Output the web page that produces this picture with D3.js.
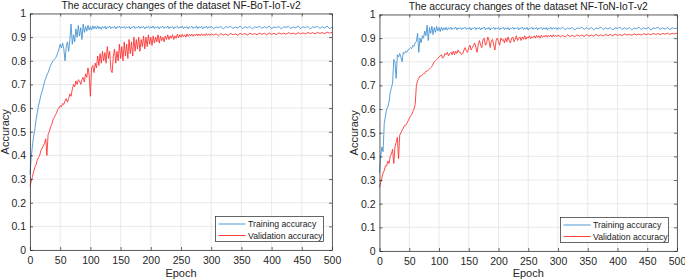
<!DOCTYPE html>
<html>
<head>
<meta charset="utf-8">
<script src="https://cdn.jsdelivr.net/npm/d3@7"></script>
<style>
  body { margin: 0; background: #fff; }
  svg { display: block; font-family: "Liberation Sans", Arial, sans-serif; }
</style>
</head>
<body>
<div id="chart"></div>
<script>
// epochs: every 2 epochs up to 298, then every 4 epochs to 500
var epochs = d3.range(0, 300, 2).concat(d3.range(300, 501, 4));

var xTicks = [0, 50, 100, 150, 200, 250, 300, 350, 400, 450, 500];
var yTicks = [0, 0.1, 0.2, 0.3, 0.4, 0.5, 0.6, 0.7, 0.8, 0.9, 1];
var seriesNames = ["Training accuracy", "Validation accuracy"];
var titles = ["The accuracy changes of the dataset NF-BoT-IoT-v2",
              "The accuracy changes of the dataset NF-ToN-IoT-v2"];

// NF-BoT-IoT-v2
var botTrain = [
  0.32,0.39,0.44,0.48,0.51,0.55,0.58,0.61,0.63,0.655,
  0.67,0.69,0.71,0.725,0.74,0.75,0.765,0.78,0.79,0.80,
  0.805,0.81,0.82,0.835,0.85,0.87,0.855,0.875,0.85,0.80,
  0.86,0.88,0.84,0.89,0.955,0.87,0.91,0.88,0.935,0.90,
  0.95,0.905,0.94,0.89,0.955,0.92,0.945,0.925,0.95,0.93,
  0.945,0.93,0.948,0.935,0.946,0.934,0.948,0.936,0.944,0.933,
  0.945,0.938,0.946,0.934,0.944,0.940,0.947,0.936,0.943,0.939,
  0.946,0.935,0.944,0.941,0.947,0.937,0.943,0.940,0.946,0.936,
  0.944,0.939,0.945,0.934,0.943,0.941,0.947,0.936,0.942,0.939,
  0.946,0.937,0.944,0.940,0.945,0.935,0.943,0.941,0.946,0.937,
  0.944,0.939,0.947,0.936,0.943,0.940,0.945,0.935,0.944,0.941,
  0.946,0.937,0.943,0.939,0.947,0.936,0.944,0.940,0.945,0.935,
  0.943,0.941,0.946,0.937,0.944,0.939,0.947,0.936,0.943,0.940,
  0.945,0.935,0.944,0.941,0.946,0.937,0.943,0.939,0.947,0.936,
  0.944,0.940,0.945,0.935,0.943,0.941,0.946,0.937,0.944,0.939,
  // 300..500
  0.947,0.936,0.943,0.940,0.945,0.935,0.944,0.941,0.946,0.937,
  0.943,0.939,0.947,0.936,0.944,0.940,0.945,0.935,0.943,0.941,
  0.946,0.937,0.944,0.939,0.947,0.936,0.943,0.940,0.945,0.935,
  0.944,0.941,0.946,0.937,0.943,0.939,0.947,0.936,0.944,0.940,
  0.945,0.935,0.943,0.941,0.946,0.937,0.944,0.939,0.947,0.936,
  0.942];
var botVal = [
  0.27,0.29,0.31,0.33,0.35,0.36,0.38,0.39,0.40,0.42,
  0.43,0.44,0.45,0.47,0.40,0.49,0.50,0.52,0.53,0.55,
  0.56,0.57,0.58,0.595,0.60,0.61,0.605,0.62,0.615,0.63,
  0.64,0.625,0.64,0.66,0.65,0.68,0.70,0.69,0.715,0.70,
  0.72,0.715,0.70,0.72,0.73,0.71,0.745,0.73,0.77,0.74,
  0.65,0.77,0.78,0.75,0.79,0.77,0.82,0.78,0.83,0.79,
  0.84,0.80,0.835,0.79,0.86,0.81,0.84,0.76,0.75,0.82,
  0.85,0.79,0.84,0.80,0.87,0.81,0.86,0.80,0.88,0.82,
  0.87,0.81,0.89,0.83,0.88,0.82,0.90,0.84,0.89,0.85,
  0.90,0.84,0.89,0.86,0.905,0.85,0.90,0.86,0.91,0.87,
  0.90,0.865,0.905,0.875,0.90,0.88,0.91,0.875,0.905,0.885,
  0.90,0.88,0.905,0.89,0.91,0.89,0.905,0.895,0.91,0.89,
  0.905,0.895,0.912,0.897,0.91,0.90,0.912,0.902,0.91,0.90,
  0.914,0.903,0.912,0.905,0.913,0.904,0.912,0.906,0.914,0.905,
  0.913,0.906,0.914,0.907,0.913,0.906,0.915,0.908,0.914,0.907,
  // 300..500
  0.914,0.908,0.914,0.906,0.915,0.909,0.913,0.907,0.916,0.910,
  0.914,0.908,0.916,0.911,0.915,0.909,0.917,0.911,0.915,0.910,
  0.917,0.912,0.916,0.910,0.918,0.912,0.916,0.911,0.918,0.913,
  0.917,0.912,0.919,0.914,0.917,0.912,0.919,0.914,0.918,0.913,
  0.920,0.915,0.919,0.914,0.920,0.916,0.919,0.915,0.921,0.917,
  0.920];

// NF-ToN-IoT-v2
var tonTrain = [
  0.33,0.40,0.44,0.42,0.54,0.57,0.60,0.61,0.63,0.67,
  0.69,0.71,0.81,0.80,0.73,0.83,0.82,0.835,0.82,0.80,
  0.84,0.835,0.845,0.84,0.85,0.855,0.86,0.855,0.87,0.865,
  0.88,0.885,0.92,0.84,0.90,0.88,0.91,0.90,0.93,0.91,
  0.955,0.89,0.945,0.92,0.95,0.915,0.945,0.925,0.95,0.93,
  0.945,0.928,0.946,0.932,0.944,0.935,0.946,0.934,0.944,0.938,
  0.946,0.936,0.943,0.940,0.947,0.935,0.944,0.939,0.945,0.936,
  0.943,0.941,0.946,0.937,0.944,0.938,0.945,0.934,0.943,0.940,
  0.946,0.936,0.944,0.939,0.945,0.935,0.943,0.941,0.947,0.936,
  0.944,0.938,0.945,0.934,0.943,0.940,0.946,0.937,0.944,0.939,
  0.945,0.935,0.943,0.941,0.946,0.936,0.944,0.938,0.945,0.934,
  0.943,0.940,0.946,0.937,0.944,0.939,0.945,0.935,0.943,0.941,
  0.947,0.936,0.944,0.938,0.945,0.934,0.943,0.940,0.946,0.937,
  0.944,0.939,0.945,0.935,0.943,0.941,0.946,0.936,0.944,0.938,
  0.945,0.934,0.943,0.940,0.946,0.937,0.944,0.939,0.945,0.936,
  // 300..500
  0.944,0.940,0.946,0.936,0.943,0.939,0.945,0.934,0.943,0.941,
  0.946,0.937,0.944,0.938,0.945,0.935,0.943,0.940,0.947,0.936,
  0.944,0.939,0.945,0.934,0.943,0.941,0.946,0.937,0.944,0.938,
  0.945,0.935,0.943,0.940,0.946,0.936,0.944,0.939,0.945,0.934,
  0.943,0.941,0.946,0.937,0.944,0.938,0.945,0.936,0.944,0.940,
  0.942];
var tonVal = [
  0.27,0.29,0.31,0.33,0.34,0.36,0.36,0.38,0.37,0.40,
  0.41,0.43,0.37,0.44,0.46,0.48,0.39,0.49,0.50,0.51,
  0.52,0.53,0.53,0.54,0.55,0.56,0.57,0.575,0.59,0.60,
  0.62,0.70,0.72,0.73,0.74,0.74,0.745,0.75,0.75,0.76,
  0.76,0.765,0.77,0.775,0.78,0.79,0.80,0.805,0.81,0.815,
  0.82,0.825,0.83,0.815,0.82,0.835,0.83,0.84,0.825,0.835,
  0.84,0.83,0.845,0.83,0.845,0.835,0.85,0.84,0.84,0.83,
  0.835,0.85,0.86,0.845,0.84,0.86,0.87,0.85,0.86,0.87,
  0.88,0.86,0.84,0.875,0.89,0.87,0.86,0.895,0.90,0.87,
  0.88,0.905,0.89,0.86,0.89,0.895,0.87,0.85,0.89,0.90,
  0.885,0.87,0.90,0.89,0.895,0.88,0.90,0.885,0.905,0.89,
  0.88,0.90,0.905,0.885,0.895,0.91,0.89,0.90,0.905,0.89,
  0.905,0.895,0.91,0.895,0.905,0.90,0.91,0.898,0.905,0.902,
  0.91,0.90,0.912,0.903,0.91,0.90,0.912,0.904,0.91,0.905,
  0.913,0.904,0.912,0.906,0.913,0.905,0.914,0.907,0.912,0.906,
  // 300..500
  0.913,0.906,0.911,0.905,0.914,0.907,0.912,0.906,0.914,0.908,
  0.913,0.907,0.915,0.909,0.913,0.908,0.916,0.910,0.914,0.909,
  0.916,0.911,0.915,0.910,0.917,0.912,0.915,0.911,0.918,0.913,
  0.916,0.912,0.918,0.914,0.917,0.913,0.919,0.915,0.918,0.914,
  0.920,0.916,0.919,0.915,0.920,0.917,0.921,0.916,0.920,0.918,
  0.921];

var colors = ["#3d8fd1", "#ff2a2a"];

var svg = d3.select("#chart").append("svg")
    .attr("width", 685)
    .attr("height", 280);

// axes area of each panel
var panels = [
  {x0: 30, x1: 332, y0: 13.5, y1: 250, title: titles[0], data: [botTrain, botVal]},
  {x0: 379.5, x1: 677, y0: 14.5, y1: 251, title: titles[1], data: [tonTrain, tonVal]}
];

panels.forEach(function(p) {
  var x = d3.scaleLinear().domain([0, 500]).range([p.x0, p.x1]);
  var y = d3.scaleLinear().domain([0, 1]).range([p.y1, p.y0]);
  var g = svg.append("g");

  // grid
  g.selectAll(".vgrid").data(xTicks).join("line")
    .attr("x1", d => x(d)).attr("x2", d => x(d))
    .attr("y1", p.y0).attr("y2", p.y1)
    .style("stroke", "#e3e3e3").style("stroke-width", 0.8);
  g.selectAll(".hgrid").data(yTicks).join("line")
    .attr("y1", d => y(d)).attr("y2", d => y(d))
    .attr("x1", p.x0).attr("x2", p.x1)
    .style("stroke", "#e3e3e3").style("stroke-width", 0.8);

  // lines
  var line = d3.line()
    .defined((d, i) => epochs[i] !== undefined)
    .x((d, i) => x(epochs[i]))
    .y(d => y(d));
  p.data.forEach(function(s, k) {
    g.append("path").datum(s)
      .attr("d", line)
      .style("fill", "none")
      .style("stroke", colors[k])
      .style("stroke-width", 0.85)
      .style("stroke-linejoin", "round");
  });

  // axes, ticks inward, boxed
  var ax = g.append("g").attr("transform", "translate(0," + p.y1 + ")")
    .call(d3.axisBottom(x).tickValues(xTicks).tickSizeInner(-3).tickSizeOuter(0).tickPadding(7));
  var axTop = g.append("g").attr("transform", "translate(0," + p.y0 + ")")
    .call(d3.axisTop(x).tickValues(xTicks).tickSizeInner(-3).tickSizeOuter(0).tickFormat(""));
  var ay = g.append("g").attr("transform", "translate(" + p.x0 + ",0)")
    .call(d3.axisLeft(y).tickValues(yTicks).tickSizeInner(-3).tickSizeOuter(0).tickPadding(4)
      .tickFormat(d => d === 0 ? "0" : d === 1 ? "1" : d3.format(".1f")(d)));
  var ayR = g.append("g").attr("transform", "translate(" + p.x1 + ",0)")
    .call(d3.axisRight(y).tickValues(yTicks).tickSizeInner(-3).tickSizeOuter(0).tickFormat(""));
  [ax, axTop, ay, ayR].forEach(function(a) {
    a.select(".domain").style("stroke", "#262626").style("stroke-width", 0.7);
    a.selectAll(".tick line").style("stroke", "#262626").style("stroke-width", 0.7);
    a.selectAll("text").style("font-family", "Liberation Sans, Arial, sans-serif")
      .style("font-size", "10.5px").style("fill", "#262626");
  });

  // title
  g.append("text")
    .attr("x", (p.x0 + p.x1) / 2).attr("y", p.y0 - 4.5)
    .attr("text-anchor", "middle")
    .style("font-size", "10.3px").style("fill", "#1a1a1a")
    .text(p.title);

  // axis labels
  g.append("text")
    .attr("x", (p.x0 + p.x1) / 2).attr("y", 277)
    .attr("text-anchor", "middle")
    .style("font-size", "11px").style("fill", "#262626")
    .text("Epoch");
  g.append("text")
    .attr("transform", "translate(" + (p.x0 - 21.5) + "," + ((p.y0 + p.y1) / 2) + ") rotate(-90)")
    .attr("text-anchor", "middle")
    .style("font-size", "11px").style("fill", "#262626")
    .text("Accuracy");

  // legend
  var lw = 108, lh = 25;
  var lx = p.x1 - 8.5 - lw, ly = p.y1 - 8.5 - lh;
  var leg = g.append("g").attr("transform", "translate(" + lx + "," + ly + ")");
  leg.append("rect")
    .attr("width", lw).attr("height", lh)
    .style("fill", "#fff").style("stroke", "#262626").style("stroke-width", 0.7);
  seriesNames.forEach(function(name, k) {
    var yy = 7.5 + k * 11.5;
    leg.append("line")
      .attr("x1", 3).attr("x2", 30).attr("y1", yy).attr("y2", yy)
      .style("stroke", colors[k]).style("stroke-width", 0.9);
    leg.append("text")
      .attr("x", 32.5).attr("y", yy + 3.2)
      .style("font-size", "8.7px").style("fill", "#1a1a1a")
      .text(name);
  });
});
</script>
</body>
</html>
